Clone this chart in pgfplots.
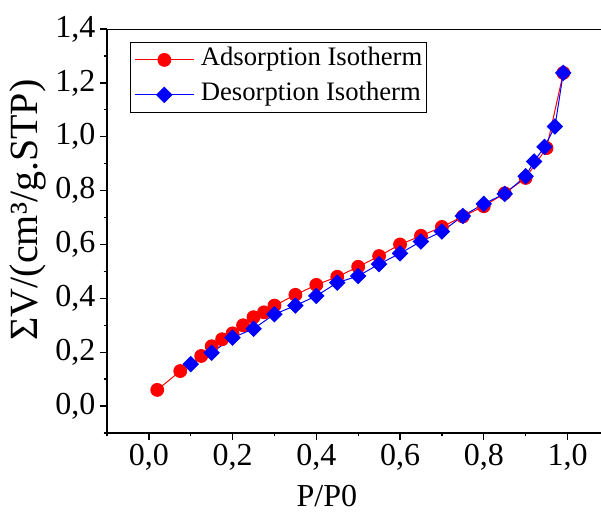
\documentclass[border=0pt]{standalone}
\usepackage{fontspec}
\setmainfont{Liberation Serif}
\usepackage{pgfplots}
\pgfplotsset{compat=1.18}

\begin{document}
\begin{tikzpicture}
\useasboundingbox (-80.25pt,-61.5pt) rectangle (370.5pt,324.75pt);
\begin{axis}[
  at={(0pt,0pt)}, anchor=south west,
  scale only axis, width=370.5pt, height=303pt,
  xmin=-0.1, xmax=1.08, ymin=-0.1, ymax=1.4,
  axis x line*=bottom, axis y line*=left,
  axis line style={line width=1pt, -},
  xtick={0,0.2,0.4,0.6,0.8,1.0},
  minor xtick={-0.1,0.1,0.3,0.5,0.7,0.9},
  ytick={0,0.2,0.4,0.6,0.8,1.0,1.2,1.4},
  minor ytick={-0.1,0.1,0.3,0.5,0.7,0.9,1.1,1.3},
  tick align=outside,
  major tick length=5.25pt, minor tick length=2.6pt,
  tick style={black, line width=1pt},
  tick label style={font=\fontsize{24}{24}\selectfont},
  /pgf/number format/.cd, fixed, fixed zerofill, precision=1, use comma, assume math mode=true,
  /pgfplots/.cd,
  xlabel={P/P0},
  ylabel={ΣV/(cm³/g.STP)},
  every axis x label/.style={at={(axis description cs:0.445,-0.182)}, anchor=base,
    font=\fontsize{24}{24}\selectfont},
  every axis y label/.style={at={(axis description cs:-0.16,0.552)}, rotate=90, anchor=center,
    font=\fontsize{30}{30}\selectfont},
  legend cell align=left,
  legend style={at={(axis description cs:0.0466,0.968)}, anchor=north west,
    draw=black, line width=0.75pt, inner xsep=3pt, inner ysep=3.6pt,
    row sep=7.25pt, column sep=5pt,
    nodes={inner sep=0pt, text height=14pt, text depth=5pt},
    font=\fontsize{20}{20}\selectfont},
  legend image code/.code={\draw[mark repeat=2,mark phase=2]
    plot coordinates {(0pt,0pt) (22pt,0pt) (44pt,0pt)};},
]
\addplot[red, line width=0.75pt, mark=*, mark size=4.8pt] coordinates {
  (0.02,0.06) (0.075,0.13) (0.125,0.186) (0.15,0.222) (0.175,0.248)
  (0.2,0.27) (0.225,0.30) (0.25,0.33) (0.275,0.348) (0.3,0.373)
  (0.35,0.413) (0.4,0.45) (0.45,0.48) (0.5,0.517) (0.55,0.557)
  (0.6,0.60) (0.65,0.632) (0.7,0.665) (0.75,0.704) (0.8,0.742)
  (0.85,0.79) (0.9,0.847) (0.95,0.958) (0.99,1.237)
};
\addlegendentry{Adsorption Isotherm}
\addplot[blue, line width=0.75pt, mark=square*, mark size=4pt, mark options={rotate=45}] coordinates {
  (0.1,0.156) (0.15,0.198) (0.2,0.254) (0.25,0.287) (0.3,0.341)
  (0.35,0.373) (0.4,0.409) (0.45,0.458) (0.5,0.483) (0.55,0.527)
  (0.6,0.567) (0.65,0.611) (0.7,0.648) (0.75,0.706) (0.8,0.751)
  (0.85,0.788) (0.9,0.853) (0.92,0.908) (0.945,0.962) (0.97,1.038)
  (0.99,1.237)
};
\addlegendentry{Desorption Isotherm}
\draw[line width=1pt] (rel axis cs:0,1) -- (rel axis cs:1,1);
\end{axis}
\end{tikzpicture}
\end{document}
